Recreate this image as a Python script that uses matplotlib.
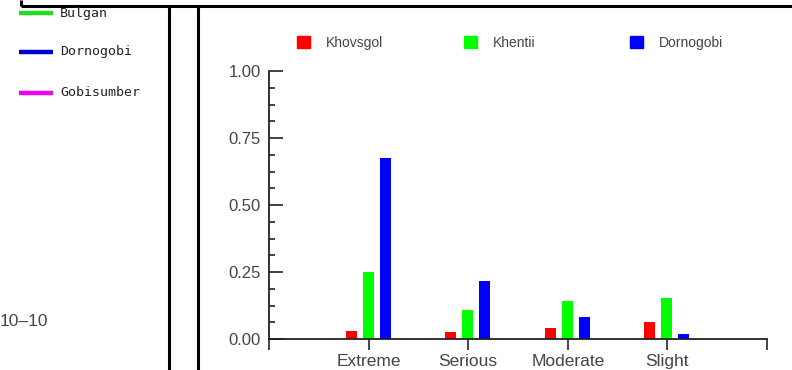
import matplotlib
matplotlib.use("Agg")
import matplotlib.pyplot as plt
from matplotlib.lines import Line2D
from matplotlib.patches import Patch
import numpy as np

categories = ["Extreme", "Serious", "Moderate", "Slight"]
series_names = ["Khovsgol", "Khentii", "Dornogobi"]
khovsgol = [0.031, 0.026, 0.042, 0.063]
khentii = [0.251, 0.107, 0.143, 0.152]
dornogobi = [0.676, 0.218, 0.082, 0.018]
series_colors = ["#ff0000", "#00ff00", "#0000ff"]

side_names = ["Bulgan", "Dornogobi", "Gobisumber"]
side_colors = ["#22dd22", "#0000cc", "#ee00ee"]

y_ticks = [0.0, 0.25, 0.5, 0.75, 1.0]
y_labels = ["0.00", "0.25", "0.50", "0.75", "1.00"]

W, H = 792, 370
fig = plt.figure(figsize=(W / 100, H / 100), dpi=100)
fig.patch.set_facecolor("white")


def fx(px):
    return px / W


def fy(py):
    return 1 - py / H


# Frame lines of the surrounding layout
line_kw = dict(color="black", lw=2.2, solid_capstyle="butt", transform=fig.transFigure)
fig.add_artist(Line2D([fx(21), fx(792)], [fy(6), fy(6)], **line_kw))
fig.add_artist(Line2D([fx(21), fx(21)], [fy(0), fy(6)], **line_kw))
fig.add_artist(Line2D([fx(169), fx(169)], [fy(6), fy(370)], **line_kw))
fig.add_artist(Line2D([fx(198), fx(198)], [fy(6), fy(370)], **line_kw))

# Side legend of a neighbouring panel
for i, (name, col) in enumerate(zip(side_names, side_colors)):
    yy = [13, 52, 93][i]
    fig.add_artist(Line2D([fx(19), fx(53)], [fy(yy), fy(yy)], color=col, lw=3.2,
                          solid_capstyle="butt", transform=fig.transFigure))
    fig.text(fx(60), fy(yy), name, fontsize=9.5, family="DejaVu Sans Mono",
             color="#222222", va="center", ha="left")

fig.text(fx(0), fy(322), "10\u201310", fontsize=12.5, family="Liberation Sans",
         color="#444444", va="center", ha="left")

# Main bar chart
ax = fig.add_axes([fx(269), fy(339), fx(767) - fx(269), fy(71) - fy(339)])
x = np.arange(1, len(categories) + 1)
offsets = [-0.175, -0.005, 0.165]
width = 0.11
for vals, off, col, name in zip([khovsgol, khentii, dornogobi], offsets,
                                series_colors, series_names):
    ax.bar(x + off, vals, width=width, color=col, label=name, zorder=2)

ax.set_xlim(0, 5)
ax.set_ylim(0, 1)
for s in ["top", "right"]:
    ax.spines[s].set_visible(False)
for s in ["left", "bottom"]:
    ax.spines[s].set_color("#222222")
    ax.spines[s].set_linewidth(1.3)

ax.set_xticks([0, 1, 2, 3, 4, 5])
ax.set_xticklabels([""] + categories + [""])
ax.set_yticks(y_ticks)
ax.set_yticklabels(y_labels)
ax.set_yticks(np.arange(0, 1.0001, 0.0625), minor=True)
ax.tick_params(axis="y", which="major", direction="in", length=10, width=1.2,
               color="#222222", pad=6)
ax.tick_params(axis="y", which="minor", direction="in", length=4, width=1.2,
               color="#222222")
ax.tick_params(axis="x", which="major", direction="out", length=8, width=1.2,
               color="#222222", pad=3)
for lab in ax.get_yticklabels():
    lab.set_family("Liberation Sans")
    lab.set_fontsize(12)
    lab.set_color("#444444")
for lab in ax.get_xticklabels():
    lab.set_family("Liberation Sans")
    lab.set_fontsize(12.5)
    lab.set_color("#444444")

# Legend entries at evenly spaced positions across the top
legend_x = [297, 464, 630]
for i, (name, col) in enumerate(zip(series_names, series_colors)):
    leg = fig.legend(handles=[Patch(facecolor=col, edgecolor=col)], labels=[name],
                     loc="center left", bbox_to_anchor=(fx(legend_x[i]), fy(43)),
                     frameon=False, borderpad=0, borderaxespad=0,
                     handlelength=0.95, handleheight=0.95, handletextpad=1.15,
                     prop={"family": "Liberation Sans", "size": 10})
    for t in leg.get_texts():
        t.set_color("#444444")

fig.savefig("out.png", dpi=100, facecolor="white")
